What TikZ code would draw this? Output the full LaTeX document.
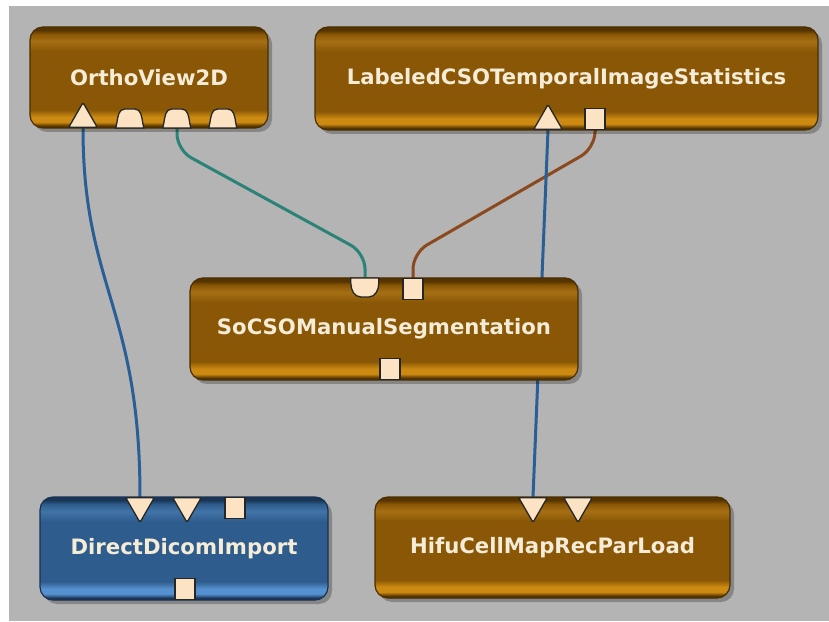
\documentclass[tikz,border=0pt]{standalone}
\usepackage{fontspec}
\setsansfont{DejaVu Sans}
\usetikzlibrary{shapes.geometric,shadows,calc}
\definecolor{bggray}{HTML}{B4B4B4}
\definecolor{obd}{HTML}{553400}
\definecolor{obb}{HTML}{CC8A12}
\definecolor{obm}{HTML}{895705}
\definecolor{obh}{HTML}{A56F14}
\definecolor{oedge}{HTML}{4A2E00}
\definecolor{bbd}{HTML}{1A3656}
\definecolor{bbb}{HTML}{5590D0}
\definecolor{bbm}{HTML}{2E5C8C}
\definecolor{bbh}{HTML}{4274A8}
\definecolor{bedge}{HTML}{183252}
\definecolor{cream}{HTML}{FBE3C4}
\definecolor{txt}{HTML}{F5ECD8}
\definecolor{wblue}{HTML}{2A5F96}
\definecolor{wteal}{HTML}{2B8378}
\definecolor{wbrown}{HTML}{8A4A1E}
\pgfdeclareverticalshading{oshade}{100bp}{color(0bp)=(obd); color(25bp)=(obd); color(26bp)=(obd); color(28bp)=(obb); color(30.5bp)=(obb); color(34bp)=(obm); color(63bp)=(obm); color(68bp)=(obh); color(71.5bp)=(obm); color(73.5bp)=(obd); color(75bp)=(obd); color(100bp)=(obd)}
\pgfdeclareverticalshading{bshade}{100bp}{color(0bp)=(bbd); color(25bp)=(bbd); color(26bp)=(bbd); color(28bp)=(bbb); color(30.5bp)=(bbb); color(34bp)=(bbm); color(63bp)=(bbm); color(68bp)=(bbh); color(71.5bp)=(bbm); color(73.5bp)=(bbd); color(75bp)=(bbd); color(100bp)=(bbd)}
\pgfdeclarelayer{wirelayer}
\pgfsetlayers{wirelayer,main}
\tikzset{
  box/.style={rectangle, rounded corners=13pt, line width=1.2pt, inner sep=0pt,
    font=\sffamily\bfseries\fontsize{21.2}{26}\selectfont, text=txt,
    drop shadow={shadow xshift=4pt, shadow yshift=-4pt, opacity=0.25, fill=black}},
  obox/.style={box, draw=oedge, shade, shading=oshade},
  bbox/.style={box, draw=bedge, shade, shading=bshade},
  portline/.style={draw=black!85, fill=cream, line width=1.3pt},
  sq/.style={portline, rectangle, inner sep=0pt, minimum width=20pt, minimum height=21pt},
  triup/.style={portline, regular polygon, regular polygon sides=3, inner sep=0pt, minimum size=33pt, rounded corners=1.5pt},
  tridown/.style={triup, shape border rotate=180},
  domeslot/.style={rectangle, inner sep=0pt, minimum width=28pt, minimum height=19pt},
  wire/.style={line width=3pt, rounded corners=16pt}
}
\begin{document}
\begin{tikzpicture}[x=1pt,y=1pt]
\useasboundingbox (0,0) rectangle (829,621);
\begin{pgfonlayer}{wirelayer}
\fill[white] (0,0) rectangle (829,621);
\fill[bggray] (9,0) rectangle (829,615);
\end{pgfonlayer}
% modules
\node[obox, minimum width=238pt, minimum height=101pt] (ov) at (149,543.5) {OrthoView2D};
\node[obox, minimum width=503pt, minimum height=103pt] (lc) at (566.5,542.5) {LabeledCSOTemporalImageStatistics};
\node[obox, minimum width=388pt, minimum height=102pt] (so) at (384,292) {SoCSOManualSegmentation};
\node[bbox, minimum width=288pt, minimum height=103pt] (dd) at (184,72.5) {DirectDicomImport};
\node[obox, minimum width=355pt, minimum height=101pt] (hf) at (552.5,73.5) {HifuCellMapRecParLoad};
% ports
\node[triup, anchor=south] (ovt) at (83,493) {};
\node[domeslot, anchor=south] (ovd1) at (130,493) {};
\node[domeslot, anchor=south] (ovd2) at (177,493) {};
\node[domeslot, anchor=south] (ovd3) at (223,493) {};
\foreach \n in {ovd1,ovd2,ovd3}
  \filldraw[portline] (\n.south west) -- ++(1,5) to[out=80,in=180] ++(8,14) -- ++(10,0) to[out=0,in=100] ++(8,-14) -- ++(1,-5) -- cycle;
\node[triup, anchor=south] (lct) at (548,491) {};
\node[sq, anchor=south] (lcs) at (595,491) {};
\node[domeslot, anchor=north] (sod) at (365,343) {};
\filldraw[portline] (sod.north west) -- ++(0,-5) to[out=-90,in=180] ++(10,-14) -- ++(8,0) to[out=0,in=-90] ++(10,14) -- ++(0,5) -- cycle;
\node[sq, anchor=north] (sos) at (413,343) {};
\node[sq, anchor=south] (sob) at (390,241) {};
\node[tridown, anchor=north] (ddt1) at (140,124) {};
\node[tridown, anchor=north] (ddt2) at (187,124) {};
\node[sq, anchor=north] (dds) at (235,124) {};
\node[sq, anchor=south] (ddb) at (185,21) {};
\node[tridown, anchor=north] (hft1) at (533,124) {};
\node[tridown, anchor=north] (hft2) at (578,124) {};
% connections
\begin{pgfonlayer}{wirelayer}
\draw[wire, wblue] (ovt.south) .. controls +(0,-160) and +(0,190) .. (ddt1.north);
\draw[wire, wteal] (ovd2.south) -- ++(0,-22) -- ($(sod.north)+(0,25)$) -- (sod.north);
\draw[wire, wbrown] (lcs.south) -- ++(0,-18) -- ($(sos.north)+(0,25)$) -- (sos.north);
\draw[wire, wblue] (lct.south) -- (hft1.north);
\end{pgfonlayer}
\end{tikzpicture}
\end{document}
